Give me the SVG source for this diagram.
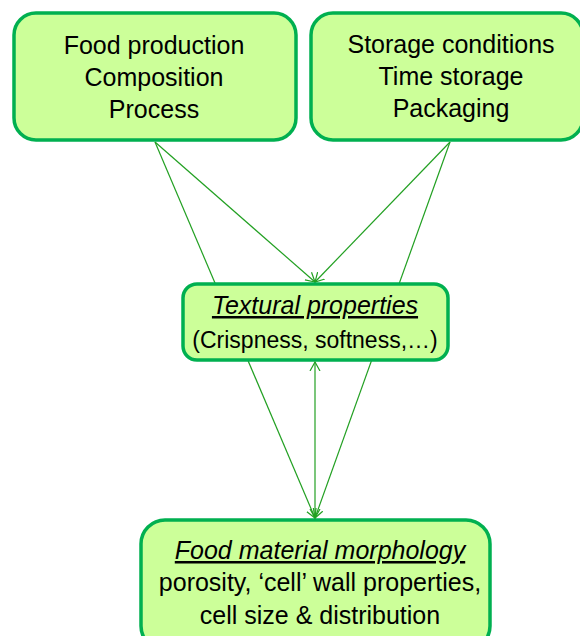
<svg xmlns="http://www.w3.org/2000/svg" width="580" height="636" viewBox="0 0 580 636">
<defs>
<style>
.box{fill:#ccff99;stroke:#00b050;stroke-width:3.5}
.t{font-family:"Liberation Sans",Arial,sans-serif;font-size:25px;fill:#000;text-anchor:middle}
.i{font-style:italic;text-decoration:underline}
.c{stroke:#22a022;stroke-width:1.2;fill:none}
</style>
<marker id="ah" markerUnits="userSpaceOnUse" markerWidth="12" markerHeight="12" refX="9" refY="5" orient="auto-start-reverse" viewBox="0 0 12 10">
<path d="M0,0 L9,5 L0,10" fill="none" stroke="#22a022" stroke-width="1.2"/>
</marker>
</defs>
<g id="connectors">
<line class="c" x1="155" y1="142" x2="315" y2="282" marker-end="url(#ah)"/>
<line class="c" x1="450" y1="142" x2="315" y2="282" marker-end="url(#ah)"/>
<line class="c" x1="155" y1="142" x2="315" y2="518" marker-end="url(#ah)"/>
<line class="c" x1="450" y1="142" x2="315" y2="518" marker-end="url(#ah)"/>
</g>
<g id="node-production">
<rect class="box" x="14" y="13" width="282" height="127" rx="22"/>
<text class="t" x="154" y="54">Food production</text>
<text class="t" x="154" y="86">Composition</text>
<text class="t" x="154" y="118">Process</text>
</g>
<g id="node-storage">
<rect class="box" x="311" y="13" width="272" height="127" rx="22"/>
<text class="t" x="451" y="53">Storage conditions</text>
<text class="t" x="451" y="85">Time storage</text>
<text class="t" x="451" y="117">Packaging</text>
</g>
<g id="node-textural">
<rect class="box" x="183" y="284" width="265" height="76" rx="14"/>
<text class="t i" x="315" y="314">Textural properties</text>
<text class="t" x="315" y="348" style="font-size:23px">(Crispness, softness,…)</text>
</g>
<g id="node-morphology">
<rect class="box" x="141" y="520" width="349" height="130" rx="24"/>
<text class="t i" x="320" y="559">Food material morphology</text>
<text class="t" x="320" y="591">porosity, ‘cell’ wall properties,</text>
<text class="t" x="320" y="624">cell size &amp; distribution</text>
</g>
<g id="connectors-2">
<line class="c" x1="315" y1="362" x2="315" y2="518" marker-start="url(#ah)" marker-end="url(#ah)"/>
</g>
</svg>
